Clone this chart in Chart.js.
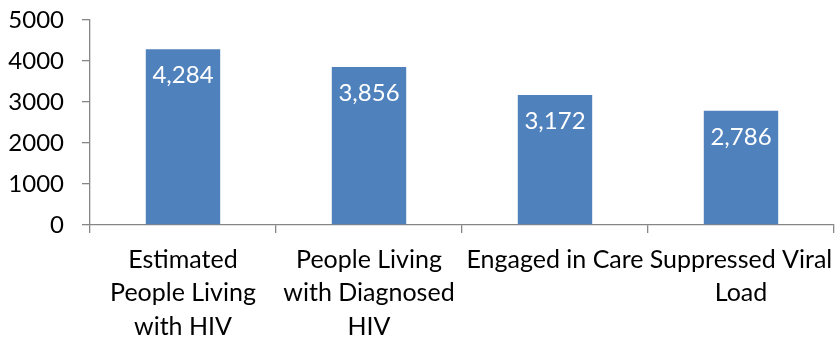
<!DOCTYPE html>
<html>
<head>
<meta charset="utf-8">
<script src="https://cdn.jsdelivr.net/npm/chart.js@4.4.1/dist/chart.umd.min.js"></script>
<style>
  html, body { margin: 0; padding: 0; background: #fff; }
  #wrap { width: 835px; height: 337px; }
</style>
</head>
<body>
<div id="wrap"><canvas id="grafico" width="835" height="337"></canvas></div>
<script>
(function () {
  const categorias = [
    ["Estimated", "People Living", "with HIV"],
    ["People Living", "with Diagnosed", "HIV"],
    ["Engaged in Care"],
    ["Suppressed Viral", "Load"]
  ];
  const valores = [4284, 3856, 3172, 2786];
  const rotulos = ["4,284", "3,856", "3,172", "2,786"];
  const ticksY = [0, 1000, 2000, 3000, 4000, 5000];

  const FONTE = "Lato, 'Open Sans', sans-serif";
  const corEixo = "#868686";

  // rótulos brancos dentro das barras, perto do topo
  const rotulosBarras = {
    id: "rotulosBarras",
    afterDatasetsDraw(chart) {
      const ctx = chart.ctx;
      const meta = chart.getDatasetMeta(0);
      ctx.save();
      ctx.fillStyle = "#fff";
      ctx.font = "24px " + FONTE;
      ctx.textAlign = "center";
      ctx.textBaseline = "middle";
      meta.data.forEach((bar, i) => {
        ctx.fillText(rotulos[i], bar.x, bar.y + 26);
      });
      ctx.restore();
    }
  };

  new Chart(document.getElementById("grafico"), {
    type: "bar",
    data: {
      labels: categorias,
      datasets: [{
        data: valores,
        backgroundColor: "#4F81BD",
        borderWidth: 0,
        barPercentage: 0.4,
        categoryPercentage: 1
      }]
    },
    options: {
      responsive: false,
      animation: false,
      layout: { padding: { top: 20, right: 1, left: 0, bottom: 0 } },
      plugins: { legend: { display: false }, tooltip: { enabled: false } },
      scales: {
        x: {
          grid: { drawOnChartArea: false, tickLength: 8, color: corEixo, lineWidth: 1.3 },
          border: { color: corEixo, width: 1.3 },
          ticks: {
            color: "#000",
            font: { family: FONTE, size: 25, lineHeight: 1.34 },
            maxRotation: 0,
            autoSkip: false,
            padding: 10
          },
          afterFit(scale) {
            scale.height = 112;
            scale.paddingLeft = 0;
            scale.paddingRight = 0;
          }
        },
        y: {
          min: 0,
          max: 5000,
          afterBuildTicks(scale) { scale.ticks = ticksY.map(v => ({ value: v })); },
          grid: { drawOnChartArea: false, tickLength: 8, color: corEixo, lineWidth: 1.3 },
          border: { color: corEixo, width: 1.3 },
          ticks: {
            color: "#000",
            font: { family: FONTE, size: 24 },
            padding: 18,
            callback: v => String(v)
          },
          afterFit(scale) {
            scale.width = 90;
            scale.paddingTop = 0;
            scale.paddingBottom = 0;
          }
        }
      }
    },
    plugins: [rotulosBarras]
  });
})();
</script>
</body>
</html>
